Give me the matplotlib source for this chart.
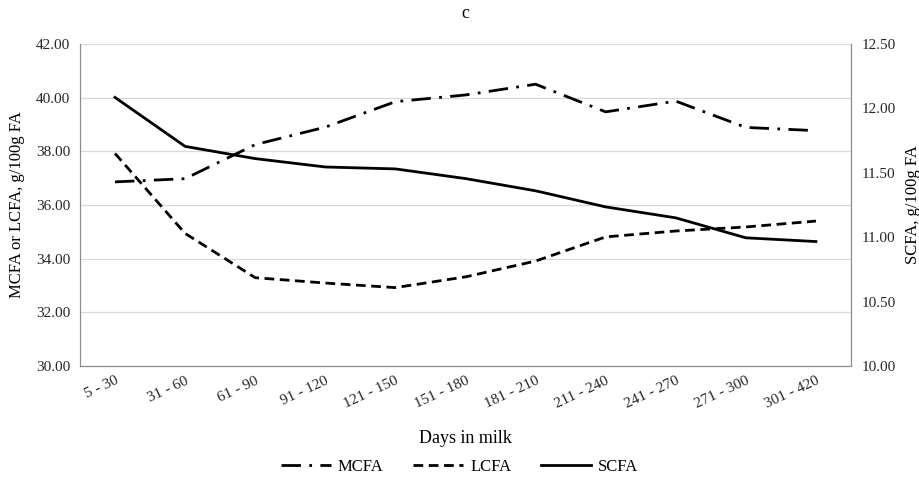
import numpy as np
import matplotlib.pyplot as plt

plt.rcParams['font.family'] = ['Liberation Serif', 'DejaVu Serif']

# days in milk groups
dim = ["5 - 30", "31 - 60", "61 - 90", "91 - 120", "121 - 150", "151 - 180",
       "181 - 210", "211 - 240", "241 - 270", "271 - 300", "301 - 420"]
mcfa = [36.86, 36.98, 38.25, 38.9, 39.85, 40.1, 40.5, 39.47, 39.87, 38.89, 38.77]
lcfa = [37.92, 34.94, 33.29, 33.09, 32.92, 33.32, 33.91, 34.81, 35.03, 35.18, 35.40]
scfa = [12.085, 11.705, 11.61, 11.545, 11.53, 11.455, 11.36, 11.235, 11.15, 10.995, 10.966]

left_ticks = [30, 32, 34, 36, 38, 40, 42]
right_ticks = [10.0, 10.5, 11.0, 11.5, 12.0, 12.5]

fig = plt.figure(figsize=(9.19, 4.86), dpi=100)
ax = fig.add_axes([0.087, 0.247, 0.839, 0.6625])
ax2 = ax.twinx()

x = np.arange(len(dim))
l1, = ax.plot(x, mcfa, color='black', lw=2, linestyle=(0, (7, 3, 1, 3)), label='MCFA')
l2, = ax.plot(x, lcfa, color='black', lw=2, linestyle=(0, (3.5, 2)), label='LCFA')
l3, = ax2.plot(x, scfa, color='black', lw=2, linestyle='-', label='SCFA')

ax.set_xlim(-0.5, len(dim) - 0.5)
ax.set_ylim(30, 42)
ax2.set_ylim(10, 12.5)
ax.set_yticks(left_ticks)
ax.set_yticklabels(["%.2f" % v for v in left_ticks])
ax2.set_yticks(right_ticks)
ax2.set_yticklabels(["%.2f" % v for v in right_ticks])
ax.set_xticks(x)
ax.set_xticklabels(dim, rotation=25, ha='right', rotation_mode='anchor')

ax.grid(axis='y', color='#d9d9d9', lw=0.9)
ax.set_axisbelow(True)
for a in (ax, ax2):
    a.spines['top'].set_visible(False)
    for s in ('left', 'right', 'bottom'):
        a.spines[s].set_color('#8c8c8c')
    a.tick_params(length=0, labelsize=11, colors='#262626')
ax.tick_params(axis='y', pad=7)
ax.tick_params(axis='x', pad=6)
ax2.tick_params(axis='y', pad=8)

ax.set_ylabel("MCFA or LCFA, g/100g FA", fontsize=12, labelpad=8)
ax2.set_ylabel("SCFA, g/100g FA", fontsize=12, labelpad=6)
ax.set_xlabel("Days in milk", fontsize=13, labelpad=14)
ax.set_title("c", fontsize=13, pad=19)

fig.legend(handles=[l1, l2, l3], loc='center', bbox_to_anchor=(0.5, 0.04), ncol=3,
           frameon=False, fontsize=12, handlelength=3.0, handletextpad=0.4,
           columnspacing=1.8)

fig.savefig("out.png", dpi=100)
